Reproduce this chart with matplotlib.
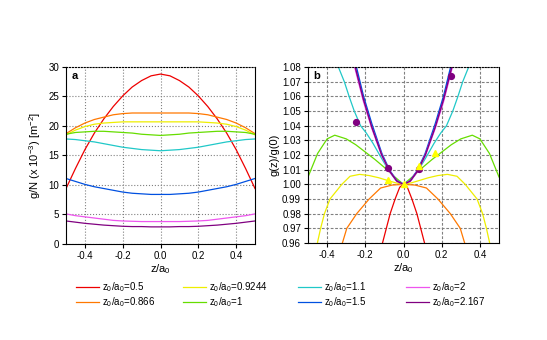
import numpy as np
import matplotlib
matplotlib.use("Agg")
import matplotlib.pyplot as plt

plt.rcParams['font.family'] = ['Liberation Sans', 'DejaVu Sans']
plt.rcParams['mathtext.fontset'] = 'custom'
plt.rcParams['mathtext.rm'] = 'Liberation Sans'
plt.rcParams['mathtext.it'] = 'Liberation Sans'
plt.rcParams['font.size'] = 7

# legend labels (z0/a0) and colours
z0_values = ['0.5', '0.866', '0.9244', '1', '1.1', '1.5', '2', '2.167']
colors = ['#ee0000', '#ff7800', '#eeee00', '#66dd00', '#20c8c8', '#0050e0', '#ee55ee', '#800080']

# panel a: g/N vs z/a0
z_a = [-0.5, -0.45, -0.4, -0.35, -0.3, -0.25, -0.2, -0.15, -0.1, -0.05, 0.0,
       0.05, 0.1, 0.15, 0.2, 0.25, 0.3, 0.35, 0.4, 0.45, 0.5]
g_red = [9.4, 12.8, 16.0, 18.8, 21.2, 23.3, 25.1, 26.6, 27.7, 28.5, 28.8,
         28.5, 27.7, 26.6, 25.1, 23.3, 21.2, 18.8, 16.0, 12.8, 9.4]
g_orange = [18.7, 19.7, 20.5, 21.1, 21.5, 21.9, 22.1, 22.2, 22.2, 22.2, 22.2,
            22.2, 22.2, 22.2, 22.1, 21.9, 21.5, 21.1, 20.5, 19.7, 18.7]
g_yellow = [18.5, 19.3, 19.9, 20.3, 20.5, 20.6, 20.7, 20.7, 20.7, 20.7, 20.7,
            20.7, 20.7, 20.7, 20.7, 20.6, 20.5, 20.3, 19.9, 19.3, 18.5]
g_green = [18.6, 18.9, 19.0, 19.1, 19.1, 19.0, 18.9, 18.8, 18.6, 18.5, 18.4,
           18.5, 18.6, 18.8, 18.9, 19.0, 19.1, 19.1, 19.0, 18.9, 18.6]
g_cyan = [17.8, 17.7, 17.5, 17.3, 17.0, 16.7, 16.4, 16.2, 16.0, 15.9, 15.8,
          15.9, 16.0, 16.2, 16.4, 16.7, 17.0, 17.3, 17.5, 17.7, 17.8]
g_blue = [11.1, 10.6, 10.1, 9.7, 9.4, 9.1, 8.8, 8.6, 8.5, 8.4, 8.4,
          8.4, 8.5, 8.6, 8.8, 9.1, 9.4, 9.7, 10.1, 10.6, 11.1]
g_magenta = [5.1, 4.8, 4.6, 4.4, 4.2, 4.0, 3.9, 3.85, 3.8, 3.8, 3.8,
             3.8, 3.8, 3.85, 3.9, 4.0, 4.2, 4.4, 4.6, 4.8, 5.1]
g_purple = [3.9, 3.7, 3.5, 3.35, 3.2, 3.1, 3.0, 2.95, 2.95, 2.9, 2.9,
            2.9, 2.95, 2.95, 3.0, 3.1, 3.2, 3.35, 3.5, 3.7, 3.9]

# panel b: g(z)/g(0)
z_red_b = [-0.12, -0.11, -0.09, -0.07, -0.044, -0.02, 0.0, 0.02, 0.044, 0.07, 0.09, 0.11, 0.12]
r_red = [0.952, 0.96, 0.97, 0.98, 0.99, 0.998, 1.0, 0.998, 0.99, 0.98, 0.97, 0.96, 0.952]
z_orange_b = [-0.34, -0.32, -0.297, -0.245, -0.18, -0.12, -0.06, 0.0, 0.06, 0.12, 0.18, 0.245, 0.297, 0.32, 0.34]
r_orange = [0.952, 0.96, 0.97, 0.98, 0.99, 0.9975, 0.9995, 1.0, 0.9995, 0.9975, 0.99, 0.98, 0.97, 0.96, 0.952]
z_yellow_b = [-0.47, -0.451, -0.434, -0.414, -0.385, -0.323, -0.28, -0.23, -0.18, -0.13, -0.08, -0.04, 0.0,
              0.04, 0.08, 0.13, 0.18, 0.23, 0.28, 0.323, 0.385, 0.414, 0.434, 0.451, 0.47]
r_yellow = [0.95, 0.96, 0.97, 0.98, 0.99, 1.0, 1.0055, 1.0068, 1.006, 1.0045, 1.0025, 1.001, 1.0,
            1.001, 1.0025, 1.0045, 1.006, 1.0068, 1.0055, 1.0, 0.99, 0.98, 0.97, 0.96, 0.95]
z_green_b = [-0.5, -0.45, -0.4, -0.36, -0.3, -0.25, -0.2, -0.15, -0.1, -0.05, 0.0,
             0.05, 0.1, 0.15, 0.2, 0.25, 0.3, 0.36, 0.4, 0.45, 0.5]
r_green = [1.005, 1.021, 1.031, 1.0335, 1.031, 1.027, 1.022, 1.017, 1.0115, 1.0055, 1.0,
           1.0055, 1.0115, 1.017, 1.022, 1.027, 1.031, 1.0335, 1.031, 1.021, 1.005]
z_cyan_b = [-0.37, -0.341, -0.31, -0.285, -0.258, -0.225, -0.195, -0.16, -0.125, -0.08, -0.04, 0.0,
            0.04, 0.08, 0.125, 0.16, 0.195, 0.225, 0.258, 0.285, 0.31, 0.341, 0.37]
r_cyan = [1.09, 1.08, 1.07, 1.06, 1.05, 1.04, 1.035, 1.028, 1.02, 1.01, 1.003, 1.0,
          1.003, 1.01, 1.02, 1.028, 1.035, 1.04, 1.05, 1.06, 1.07, 1.08, 1.09]
z_steep_b = [-0.27, -0.253, -0.21, -0.166, -0.114, -0.073, -0.035, 0.0, 0.035, 0.073, 0.114, 0.166, 0.21, 0.253, 0.27]
r_purple = [1.09, 1.08, 1.058, 1.039, 1.02, 1.009, 1.0022, 1.0, 1.0022, 1.009, 1.02, 1.039, 1.058, 1.08, 1.09]
r_magenta = [1.088, 1.079, 1.057, 1.0385, 1.0198, 1.0089, 1.0021, 1.0, 1.0021, 1.0089, 1.0198, 1.0385, 1.057, 1.079, 1.088]
r_blue = [1.093, 1.083, 1.06, 1.041, 1.021, 1.0095, 1.0024, 1.0, 1.0024, 1.0095, 1.021, 1.041, 1.06, 1.083, 1.093]

# symbols in panel b
dot_z = [-0.25, -0.083, 0.083, 0.25]
dot_r = [1.0427, 1.011, 1.0105, 1.074]
tri_z = [-0.083, 0.0, 0.083, 0.167]
tri_r = [1.003, 1.0005, 1.0125, 1.0215]

fig = plt.figure(figsize=(5.47, 3.40), dpi=100)
ax1 = fig.add_axes([0.1207, 0.2824, 0.3455, 0.5206])
ax2 = fig.add_axes([0.5631, 0.2853, 0.3492, 0.5176])

curves_a = [g_red, g_orange, g_yellow, g_green, g_cyan, g_blue, g_magenta, g_purple]
handles = []
for vals, c, z0 in zip(curves_a, colors, z0_values):
    ln, = ax1.plot(z_a, vals, color=c, lw=0.9,
                   label=r'z$_\mathregular{0}$/a$_\mathregular{0}$=' + z0)
    handles.append(ln)

ax1.set_xlim(-0.5, 0.5)
ax1.set_ylim(0, 30)
ax1.set_xticks([-0.4, -0.2, 0.0, 0.2, 0.4])
ax1.set_yticks([0, 5, 10, 15, 20, 25, 30])
ax1.set_xticklabels(['-0.4', '-0.2', '0.0', '0.2', '0.4'])
ax1.grid(True, color='#808080', ls=':', lw=0.8)
ax1.set_xlabel(r'z/a$_\mathregular{0}$', fontsize=8, labelpad=1)
ax1.set_ylabel(r'g/N (x 10$^\mathregular{-3}$) [m$^\mathregular{-2}$]', fontsize=8, labelpad=4)
ax1.text(0.03, 0.93, 'a', transform=ax1.transAxes, fontweight='bold', fontsize=8)

ax2.plot(z_red_b, r_red, color=colors[0], lw=0.9)
ax2.plot(z_orange_b, r_orange, color=colors[1], lw=0.9)
ax2.plot(z_yellow_b, r_yellow, color=colors[2], lw=0.9)
ax2.plot(z_green_b, r_green, color=colors[3], lw=0.9)
ax2.plot(z_cyan_b, r_cyan, color=colors[4], lw=0.9)
ax2.plot(z_steep_b, r_blue, color=colors[5], lw=1.2)
ax2.plot(z_steep_b, r_magenta, color=colors[6], lw=1.2)
ax2.plot(z_steep_b, r_purple, color=colors[7], lw=1.0)
ax2.plot(dot_z, dot_r, 'o', color='#800080', ms=4.2, zorder=5)
ax2.plot(tri_z, tri_r, '^', color='#ffff00', ms=4.2, zorder=5)

ax2.set_xlim(-0.5, 0.5)
ax2.set_ylim(0.96, 1.08)
ax2.set_xticks([-0.4, -0.2, 0.0, 0.2, 0.4])
ax2.set_xticklabels(['-0.4', '-0.2', '0.0', '0.2', '0.4'])
ax2.set_yticks(np.arange(96, 109) / 100)
ax2.set_yticklabels(['%.2f' % (v / 100) for v in range(96, 109)])
ax2.grid(True, color='#808080', ls=(0, (2.5, 1.5)), lw=0.8)
ax2.set_xlabel(r'z/a$_\mathregular{0}$', fontsize=8, labelpad=1)
ax2.set_ylabel('g(z)/g(0)', fontsize=8, labelpad=2)
ax2.text(0.03, 0.93, 'b', transform=ax2.transAxes, fontweight='bold', fontsize=8)

for ax in (ax1, ax2):
    ax.tick_params(direction='out', length=3, width=0.8, pad=2, labelsize=7)
    for s in ax.spines.values():
        s.set_linewidth(0.8)
    ax.spines['top'].set_linestyle(':')

# legend: four columns of two entries
col_x = [0.139, 0.3346, 0.5448, 0.7422]
for i, x in enumerate(col_x):
    leg = fig.legend(handles=handles[2 * i:2 * i + 2], loc='upper left',
                     bbox_to_anchor=(x, 0.176), frameon=False, fontsize=7,
                     borderpad=0, borderaxespad=0, handlelength=2.35,
                     handletextpad=0.3, labelspacing=0.15)

fig.savefig('out.png', dpi=100)
